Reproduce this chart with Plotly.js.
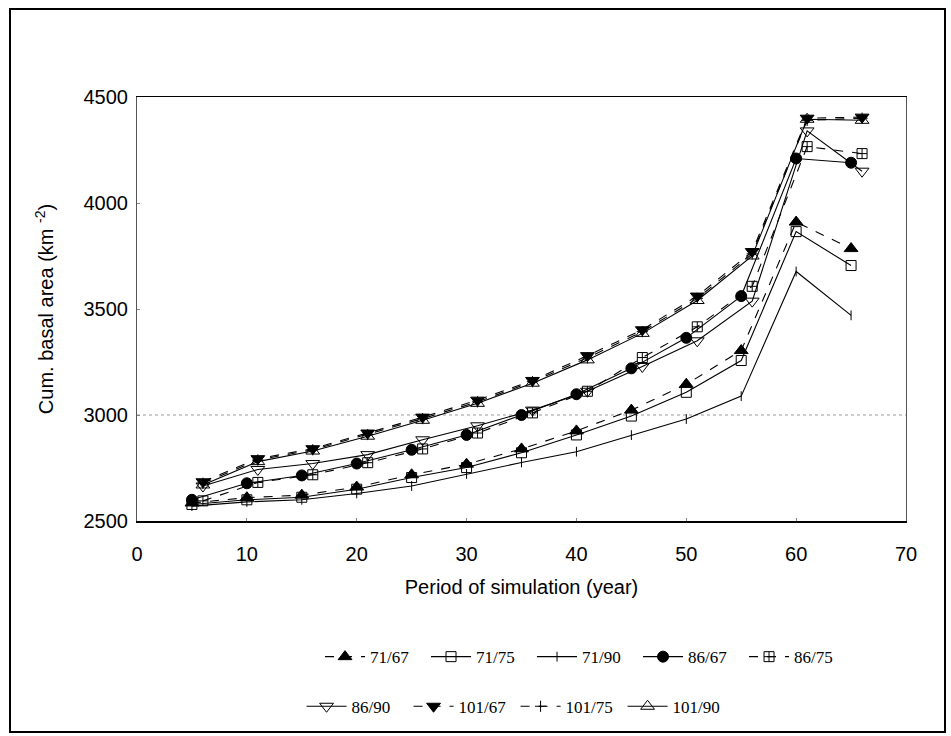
<!DOCTYPE html>
<html>
<head>
<meta charset="utf-8">
<script src="https://cdn.plot.ly/plotly-3.0.1.min.js"></script>
<style>
  html, body { margin: 0; padding: 0; background: #fff; }
  #wrap { position: relative; width: 951px; height: 736px; }
  #chart { width: 951px; height: 736px; }
  #frame { position: absolute; left: 9px; top: 8px; width: 933px; height: 721px; border: 2px solid #000; pointer-events: none; }
</style>
</head>
<body>
<div id="wrap"><div id="chart"></div><div id="frame"></div></div>
<script>
// x positions (years)
const years5 = [5, 10, 15, 20, 25, 30, 35, 40, 45, 50, 55, 60, 65];
const years6 = [6, 11, 16, 21, 26, 31, 36, 41, 46, 51, 56, 61, 66];

// series values (cumulative basal area)
const s71_67  = [2585, 2610, 2622, 2660, 2718, 2768, 2840, 2925, 3023, 3145, 3304, 3910, 3785];
const s71_75  = [2578, 2600, 2612, 2650, 2705, 2752, 2822, 2906, 2995, 3107, 3257, 3865, 3705];
const s71_90  = [2570, 2590, 2600, 2630, 2665, 2722, 2776, 2827, 2905, 2981, 3089, 3677, 3470];
const s86_67  = [2600, 2678, 2715, 2771, 2836, 2906, 3000, 3098, 3220, 3364, 3561, 4210, 4190];
const s86_75  = [2595, 2682, 2718, 2775, 2840, 2915, 3010, 3112, 3271, 3416, 3607, 4266, 4233];
const s86_90  = [2665, 2743, 2771, 2813, 2883, 2949, 3023, 3112, 3229, 3350, 3537, 4340, 4150];
const s101_67 = [2685, 2794, 2841, 2915, 2990, 3070, 3163, 3280, 3402, 3561, 3771, 4400, 4405];
const s101_75 = [2678, 2788, 2836, 2908, 2983, 3062, 3157, 3270, 3393, 3550, 3760, 4390, 4400];
const s101_90 = [2670, 2780, 2830, 2900, 2975, 3055, 3150, 3260, 3385, 3540, 3750, 4395, 4390];

const names = ["71/67", "71/75", "71/90", "86/67", "86/75", "86/90", "101/67", "101/75", "101/90"];
const xTicks = [0, 10, 20, 30, 40, 50, 60, 70];
const yTicks = [2500, 3000, 3500, 4000, 4500];
const gridY = 3000;

function tr(name, xs, ys, symbol, size, dash, legend) {
  return {
    type: 'scatter', mode: 'lines+markers', name: name, x: xs, y: ys,
    line: { color: '#000', width: 1.1, dash: dash },
    marker: { symbol: symbol, size: size, color: '#000', line: { color: '#000', width: 1 } },
    legend: legend
  };
}

const data = [
  tr(names[0], years5, s71_67, 'triangle-up', 12, 'dash', 'legend'),
  tr(names[1], years5, s71_75, 'square-open', 10, 'solid', 'legend'),
  tr(names[2], years5, s71_90, 'line-ns-open', 7, 'solid', 'legend'),
  tr(names[3], years5, s86_67, 'circle', 11, 'solid', 'legend'),
  tr(names[4], years6, s86_75, 'square-cross-open', 10, 'dash', 'legend'),
  tr(names[5], years6, s86_90, 'triangle-down-open', 12, 'solid', 'legend2'),
  tr(names[6], years6, s101_67, 'triangle-down', 12, 'dash', 'legend2'),
  tr(names[7], years6, s101_75, 'cross-thin-open', 8, 'dash', 'legend2'),
  tr(names[8], years6, s101_90, 'triangle-up-open', 12, 'solid', 'legend2')
];

const legFont = { family: 'Liberation Serif, Times New Roman, serif', size: 17, color: '#000' };

const layout = {
  width: 951, height: 736,
  margin: { l: 137, r: 45, t: 97, b: 212 },
  paper_bgcolor: '#fff', plot_bgcolor: '#fff',
  font: { family: 'Liberation Sans, Arial, sans-serif', color: '#000', size: 18 },
  showlegend: true,
  xaxis: {
    range: [0, 70], tickvals: xTicks, ticktext: xTicks.map(String),
    showgrid: false, zeroline: false,
    showline: true, linecolor: '#000', linewidth: 1.5, mirror: true,
    ticks: 'inside', ticklen: 3, tickcolor: '#888',
    ticklabelstandoff: 14,
    tickfont: { size: 20 },
    title: { text: 'Period of simulation (year)', font: { size: 20 }, standoff: 16 }
  },
  yaxis: {
    range: [2500, 4500], tickvals: yTicks, ticktext: yTicks.map(String),
    showgrid: false, zeroline: false,
    showline: true, linecolor: '#555', linewidth: 1, mirror: true,
    ticks: 'inside', ticklen: 3, tickcolor: '#888',
    ticklabelstandoff: 4,
    tickfont: { size: 20 },
    title: { text: 'Cum. basal area (km <sup>-2</sup>)', font: { size: 20 }, standoff: 24 }
  },
  shapes: [{
    type: 'line', xref: 'paper', x0: 0, x1: 1, yref: 'y', y0: gridY, y1: gridY,
    line: { color: '#999', width: 1, dash: 'dot' }, layer: 'below'
  }],
  legend: {
    orientation: 'h', x: 0.238, xanchor: 'left', y: -0.321, yanchor: 'middle',
    font: legFont, bgcolor: 'rgba(0,0,0,0)',
    entrywidth: 51, entrywidthmode: 'pixels', itemwidth: 40
  },
  legend2: {
    orientation: 'h', x: 0.214, xanchor: 'left', y: -0.438, yanchor: 'middle',
    font: legFont, bgcolor: 'rgba(0,0,0,0)',
    entrywidth: 52, entrywidthmode: 'pixels', itemwidth: 40
  }
};

Plotly.newPlot('chart', data, layout, { displayModeBar: false, staticPlot: true });
</script>
</body>
</html>
